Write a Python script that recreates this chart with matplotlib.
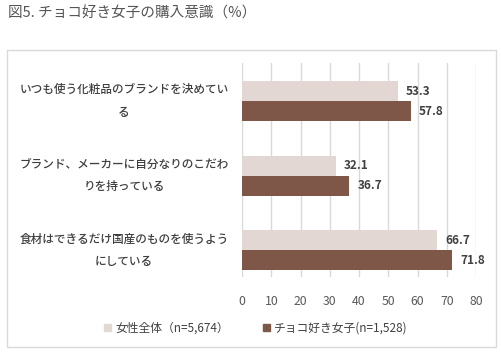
import numpy as np
import matplotlib.pyplot as plt
from matplotlib.patches import Rectangle, Patch

plt.rcParams['font.family'] = ['Noto Sans CJK JP', 'DejaVu Sans']

# Data
categories = ['いつも使う化粧品のブランドを決めてい\nる',
              'ブランド、メーカーに自分なりのこだわ\nりを持っている',
              '食材はできるだけ国産のものを使うよう\nにしている']
women_all = [53.3, 32.1, 66.7]
choco_girls = [57.8, 36.7, 71.8]
series_names = ['女性全体（n=5,674）', 'チョコ好き女子(n=1,528)']
xticks = [0, 10, 20, 30, 40, 50, 60, 70, 80]

light = '#e2d7d2'
dark = '#7e5748'
txt = '#404040'

W, H = 502, 355
fig = plt.figure(figsize=(W / 100, H / 100), dpi=100)

# outer frame
fig.patches.append(Rectangle((7.5 / W, 1 - 347 / H), (496 - 7.5) / W, (347 - 49.5) / H,
                             transform=fig.transFigure, fill=False,
                             edgecolor='#d9d9d9', linewidth=1))

fig.text(8 / W, 1 - 14 / H, '図5. チョコ好き女子の購入意識（%）', fontsize=10.5,
         color='#555555', va='center', ha='left')

ax = fig.add_axes([242 / W, 1 - 277 / H, (476 - 242) / W, (277 - 63) / H])
y = np.arange(len(categories))
bh = 0.268
b1 = ax.barh(y - bh / 2, women_all, height=bh, color=light)
b2 = ax.barh(y + bh / 2, choco_girls, height=bh, color=dark)

for bars, vals in ((b1, women_all), (b2, choco_girls)):
    for bar, v in zip(bars, vals):
        ax.text(v + 2.7, bar.get_y() + bar.get_height() / 2, f'{v:.1f}',
                va='center', ha='left', fontsize=8.5, color=txt, fontweight='semibold')

ax.set_xlim(0, 80)
ax.set_ylim(2.355, -0.509)
ax.set_xticks(xticks)
ax.set_xticklabels([str(t) for t in xticks], fontsize=8.8, color='#595959')
ax.tick_params(axis='x', length=0, pad=13)
ax.set_yticks([])
ax.grid(axis='x', color='#d9d9d9', linewidth=1)
ax.set_axisbelow(True)
for s in ax.spines.values():
    s.set_visible(False)

for i, c in enumerate(categories):
    fig.text(124 / W, 1 - (101 + i * 74.7) / H, c, ha='center', va='center',
             fontsize=8.4, color=txt, linespacing=1.95, fontweight='medium')

handles = [Patch(color=light), Patch(color=dark)]
fig.legend(handles, series_names, loc='center', bbox_to_anchor=(256 / W, 1 - 328 / H),
           ncol=2, frameon=False, fontsize=8.5, labelcolor=txt, handlelength=0.6,
           handleheight=0.6, handletextpad=0.4, columnspacing=2.8)

fig.savefig('out.png', dpi=100)
